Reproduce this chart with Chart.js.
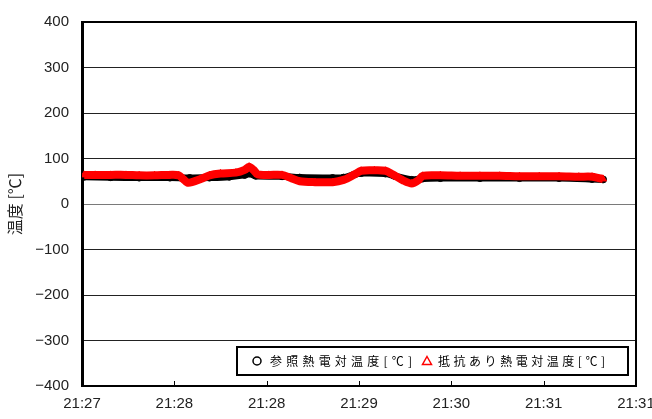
<!DOCTYPE html>
<html>
<head>
<meta charset="utf-8">
<script src="https://cdn.jsdelivr.net/npm/chart.js@4/dist/chart.umd.min.js"></script>
<style>
  html, body { margin: 0; padding: 0; background: #fff; }
  #wrap { width: 652px; height: 419px; }
</style>
</head>
<body>
<div id="wrap"><canvas id="c" width="652" height="419"></canvas></div>
<script>
// Elapsed seconds from 21:27:00; axis ticks every 42 s
const TICK_STEP = 42;
const TICK_LABELS = ['21:27', '21:28', '21:28', '21:29', '21:30', '21:31', '21:31'];

const SERIES_NAMES = ['参照熱電対温度[℃]', '抵抗あり熱電対温度[℃]'];

// Reference thermocouple
const refTime = [1, 13, 26, 40, 49, 58, 67, 74, 76, 79, 91, 99, 114, 119, 124, 127, 138, 142, 150, 155, 163, 181, 199, 217, 232, 237];
const refTemp = [60, 59, 58, 58, 57, 58, 60, 64, 67, 62, 61, 58, 57, 58, 65, 68, 67, 62, 53, 56, 57, 57, 57, 57, 55, 54];

// Thermocouple with resistance
const resTime = [1, 6, 13, 20, 26, 33, 40, 44, 46, 48, 50, 54, 58, 63, 70, 74, 76, 78, 80, 85, 91, 95, 99, 106, 114, 119, 124, 127, 133, 138, 141, 146, 150, 153, 155, 163, 172, 181, 190, 199, 208, 217, 226, 232, 235, 237];
const resTemp = [64, 64, 64, 64, 63, 63, 64, 63, 55, 47, 48, 55, 63, 67, 69, 75, 82, 75, 65, 64, 64, 57, 50, 48, 48, 53, 65, 73, 74, 73, 66, 52, 45, 52, 62, 63, 62, 62, 62, 61, 61, 61, 60, 60, 57, 55];

const Y_MIN = -400, Y_MAX = 400, Y_STEP = 100;

const toPoints = (xs, ys) => xs.map((x, i) => ({ x: x, y: ys[i] }));

// Frame, inward x tick marks and the boxed legend inside the plot area
const framePlugin = {
  id: 'frame',
  afterDraw(chart) {
    const ctx = chart.ctx;
    const a = chart.chartArea;
    const xs = chart.scales.x;
    ctx.save();
    ctx.strokeStyle = '#000';
    ctx.lineWidth = 2;
    ctx.beginPath();
    ctx.moveTo(a.left, a.top);
    ctx.lineTo(a.right, a.top);
    ctx.lineTo(a.right, a.bottom);
    ctx.stroke();

    ctx.lineWidth = 1;
    xs.ticks.forEach(t => {
      const px = Math.round(xs.getPixelForValue(t.value)) + 0.5;
      ctx.beginPath();
      ctx.moveTo(px, a.bottom);
      ctx.lineTo(px, a.bottom - 5);
      ctx.stroke();
    });

    // legend box
    const L = chart.options.plugins.frame;
    ctx.fillStyle = '#fff';
    ctx.fillRect(L.x, L.y, L.w, L.h);
    ctx.lineWidth = 2;
    ctx.strokeStyle = '#000';
    ctx.strokeRect(L.x, L.y, L.w, L.h);

    const cy = L.y + L.h / 2;
    ctx.font = '12px "Noto Sans CJK JP"';
    ctx.textBaseline = 'middle';
    ctx.fillStyle = '#000';
    L.items.forEach(it => {
      const ds = chart.data.datasets[it.ds];
      ctx.lineWidth = 1.5;
      ctx.strokeStyle = ds.borderColor;
      ctx.beginPath();
      if (ds.pointStyle === 'triangle') {
        ctx.moveTo(it.mx, cy - 4.5);
        ctx.lineTo(it.mx + 4.5, cy + 3.5);
        ctx.lineTo(it.mx - 4.5, cy + 3.5);
        ctx.closePath();
      } else {
        ctx.arc(it.mx, cy, 4, 0, Math.PI * 2);
      }
      ctx.stroke();
      const label = ds.label;
      ctx.letterSpacing = '0px';
      const w0 = ctx.measureText(label).width;
      const n = [...label].length;
      const sp = (it.tw - w0) / (n - 1);
      ctx.letterSpacing = sp + 'px';
      ctx.fillStyle = '#000';
      ctx.fillText(label, it.tx, cy + 0.5);
    });
    ctx.restore();
  }
};

new Chart(document.getElementById('c'), {
  type: 'line',
  data: {
    datasets: [
      {
        label: SERIES_NAMES[0],
        data: toPoints(refTime, refTemp),
        borderColor: '#000',
        backgroundColor: '#000',
        pointStyle: 'circle',
        pointRadius: 3.5,
        pointBorderWidth: 1,
        borderWidth: 7,
        tension: 0.3,
        order: 1
      },
      {
        label: SERIES_NAMES[1],
        data: toPoints(resTime, resTemp),
        borderColor: '#ff0000',
        backgroundColor: '#ff0000',
        pointStyle: 'triangle',
        pointRadius: 4,
        pointBorderWidth: 1,
        borderWidth: 8,
        tension: 0.3,
        order: 0
      }
    ]
  },
  options: {
    responsive: false,
    animation: false,
    layout: { padding: { top: 19, right: 16, left: 0, bottom: 0 } },
    plugins: {
      legend: { display: false },
      tooltip: { enabled: false },
      frame: {
        x: 237, y: 347, w: 391, h: 28,
        items: [
          { ds: 0, mx: 257, tx: 270, tw: 142 },
          { ds: 1, mx: 427, tx: 438, tw: 167 }
        ]
      }
    },
    scales: {
      x: {
        type: 'linear',
        min: 0,
        max: TICK_STEP * (TICK_LABELS.length - 1),
        afterBuildTicks(scale) {
          scale.ticks = TICK_LABELS.map((_, i) => ({ value: i * TICK_STEP }));
        },
        afterFit(scale) {
          scale.height = 33;
          scale.paddingLeft = 0;
          scale.paddingRight = 0;
        },
        grid: { display: false, drawTicks: false },
        border: { display: true, color: '#000', width: 2 },
        ticks: {
          autoSkip: false,
          maxRotation: 0,
          padding: 9,
          color: '#222',
          font: { family: '"Liberation Sans", Arial, sans-serif', size: 15 },
          callback: (v, i) => TICK_LABELS[i]
        }
      },
      y: {
        min: Y_MIN,
        max: Y_MAX,
        ticks: {
          stepSize: Y_STEP,
          padding: 13,
          color: '#222',
          font: { family: '"Liberation Sans", Arial, sans-serif', size: 15 },
          callback: v => (v < 0 ? '\u2212' + Math.abs(v) : String(v))
        },
        afterFit(scale) { scale.width = 82; },
        grid: {
          drawTicks: false,
          color: ctx => (ctx.tick && ctx.tick.value === 0 ? '#7a7a7a' : '#222'),
          lineWidth: 1
        },
        border: { display: true, color: '#000', width: 3 },
        title: {
          display: true,
          text: '温度 [℃]',
          color: '#222',
          padding: { top: 5, bottom: 0 },
          font: { family: '"Noto Sans CJK JP"', size: 16 }
        }
      }
    }
  },
  plugins: [framePlugin]
});
</script>
</body>
</html>
